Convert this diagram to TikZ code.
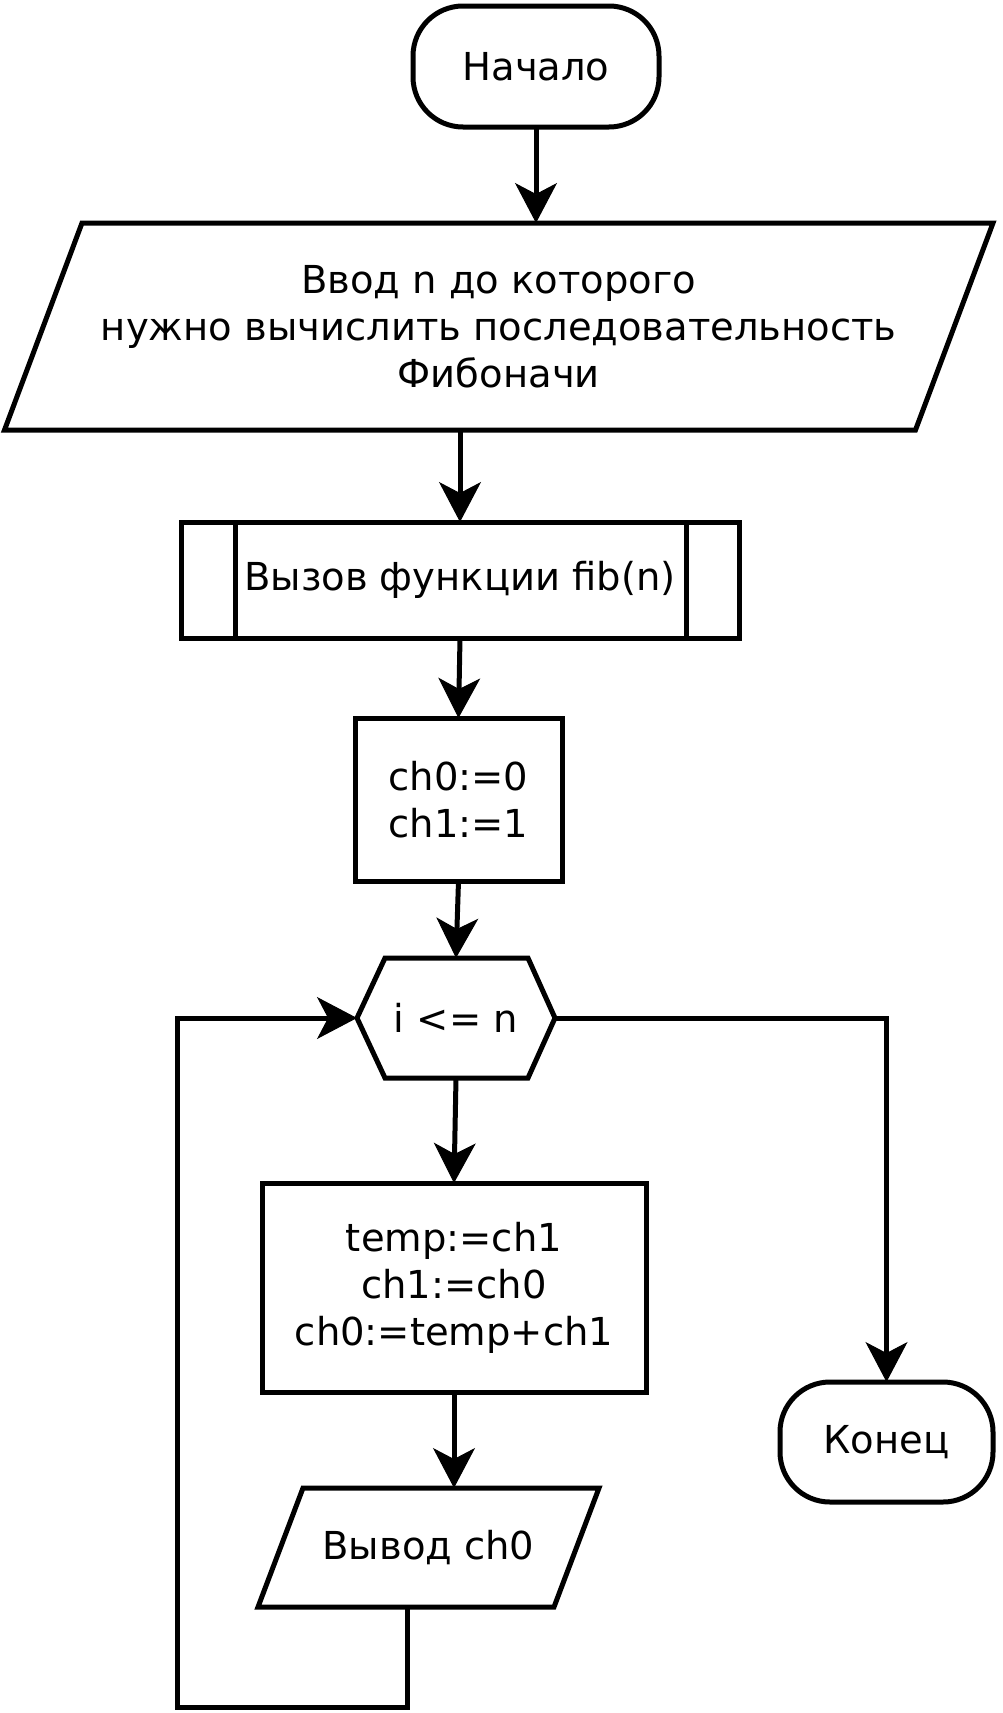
\documentclass[tikz,border=0pt]{standalone}
\usepackage{fontspec}
\setmainfont{DejaVu Sans}
\usetikzlibrary{arrows.meta}
\begin{document}
\begin{tikzpicture}[x=1pt,y=-1pt,
  every node/.style={font=\fontsize{38.5pt}{47pt}\selectfont, align=center, inner sep=0pt, outer sep=0pt},
  shapebox/.style={draw, line width=5pt},
  term/.style={shapebox, rounded corners=50pt},
  ln/.style={line width=5pt},
  arr/.style={ln, -{Stealth[length=40pt,width=42pt,inset=11pt,line width=1pt]}}]
\fill[white] (0,0) rectangle (1002,1713);
\useasboundingbox (0,0) rectangle (1002,1713);

\node[term, minimum width=246pt, minimum height=121pt] (start) at (536,66.5) {Начало};

\node[minimum width=911pt, minimum height=207pt] (in) at (498.75,326.5)
  {Ввод n до которого\\нужно вычислить последовательность\\Фибоначи};
\draw[ln] ([xshift=38.75pt]in.north west) -- ([xshift=38.75pt]in.north east)
  -- ([xshift=-38.75pt]in.south east) -- ([xshift=-38.75pt]in.south west) -- cycle;

\node[shapebox, minimum width=558pt, minimum height=116pt] (sub) at (460,580) {Вызов функции fib(n)};
\draw[ln] ([xshift=54pt]sub.north west) -- ([xshift=54pt]sub.south west);
\draw[ln] ([xshift=-53pt]sub.north east) -- ([xshift=-53pt]sub.south east);

\node[shapebox, minimum width=207pt, minimum height=163pt] (init) at (458.5,799.5) {ch0:=0\\ch1:=1};

\node[minimum width=198pt, minimum height=120pt] (cond) at (456,1018) {i <= n};
\draw[ln] (cond.west) -- ([xshift=28pt]cond.north west) -- ([xshift=-27pt]cond.north east)
  -- (cond.east) -- ([xshift=-27pt]cond.south east) -- ([xshift=28pt]cond.south west) -- cycle;

\node[shapebox, minimum width=384pt, minimum height=209pt] (body) at (454,1287.5)
  {temp:=ch1\\ch1:=ch0\\ch0:=temp+ch1};

\node[minimum width=296pt, minimum height=119pt] (out) at (428.5,1547.5) {Вывод ch0};
\draw[ln] ([xshift=22.5pt]out.north west) -- ([xshift=22.5pt]out.north east)
  -- ([xshift=-22.5pt]out.south east) -- ([xshift=-22.5pt]out.south west) -- cycle;

\node[term, minimum width=213pt, minimum height=120pt] (end) at (886.5,1442) {Конец};

\coordinate (lb) at (177,1707);

\draw[arr] (start.south) -- (start.south |- in.north);
\draw[arr] (in.south -| sub.north) -- (sub.north);
\draw[arr] (sub.south) -- (init.north);
\draw[arr] (init.south) -- (cond.north);
\draw[arr] (cond.south) -- (body.north);
\draw[arr] (body.south) -- (body.south |- out.north);
\draw[arr] ([xshift=-21.5pt]out.south) |- (lb) |- (cond.west);
\draw[arr] (cond.east) -| (end.north);
\end{tikzpicture}
\end{document}
